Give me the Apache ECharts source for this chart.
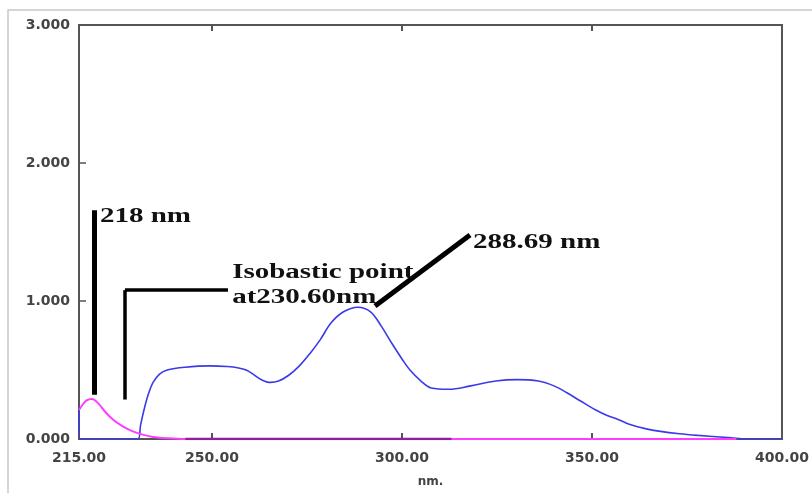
<!DOCTYPE html>
<html>
<head>
<meta charset="utf-8">
<script src="https://cdn.jsdelivr.net/npm/echarts@6/dist/echarts.min.js"></script>
<style>html,body{margin:0;padding:0;background:#fff;}#c{width:812px;height:493px;}</style>
</head>
<body>
<div id="c"></div>
<script>
// ---- data ----
var blueSpectrum = [
  [215,0.22],[215.3,0],[230.5,0],[231.2,0.10],[232.1,0.21],[233.2,0.32],[234.5,0.41],[236.2,0.47],
  [238.2,0.50],[242.9,0.52],[249.5,0.53],[254,0.525],[257,0.515],[259,0.50],[260.8,0.47],[263,0.43],
  [265.4,0.41],[267.5,0.42],[270.1,0.46],[273,0.53],[275.8,0.62],[278.5,0.72],[281.3,0.84],[284.5,0.92],
  [288.4,0.955],[291.8,0.92],[294.5,0.82],[297.4,0.69],[300,0.58],[302.1,0.50],[305,0.42],[307.7,0.37],
  [312.4,0.36],[318.1,0.385],[324.7,0.42],[330.3,0.43],[335.9,0.42],[340,0.385],[343.4,0.335],[347,0.275],
  [351,0.21],[354,0.17],[357,0.14],[360,0.105],[364,0.075],[368,0.055],[373,0.038],[378,0.026],
  [383.7,0.015],[388,0.005],[390,0],[400,0]
];
var magentaSpectrum = [
  [215,0.21],[216,0.25],[217,0.28],[218.4,0.29],[220,0.26],[222.1,0.19],[224,0.14],[226,0.10],
  [228,0.07],[229.7,0.05],[232,0.03],[234.5,0.015],[238,0.006],[243,0],[388,0]
];
var overlapBaseline = [[243,0],[313,0]];
var xLabelValues = [215,250,300,350,400];
var xTickValues = [250,300,350];
var yTickValues = [1,2];
// annotation anchors in data space [nm, absorbance]
var line218 = [[218.95,1.657],[218.95,0.32]];
var lineIso = [[254.2,1.079],[227.1,1.079],[227.1,0.286]];
var line288 = [[292.9,0.964],[317.9,1.479]];
var text218 = {label:'218 nm', at:[220.5,1.61]};
var textIso = {label:'Isobastic point\nat230.60nm', at:[255.3,1.117]};
var text288 = {label:'288.69 nm', at:[318.7,1.423]};

var chart = echarts.init(document.getElementById('c'));
var axisColor = '#555';
var labelFont = {fontFamily:'DejaVu Sans', fontWeight:'bold', fontSize:14, color:'#444'};

function segLines(pts){
  var out=[];
  for(var i=0;i<pts.length-1;i++){ out.push([{coord:pts[i]},{coord:pts[i+1]}]); }
  return out;
}
var annLines = segLines(line218).concat(segLines(lineIso).map(function(s){return s.map(function(p){return {coord:p.coord, lineStyle:{width:3.5}};});})).concat(segLines(line288));

var option = {
  animation:false,
  grid:{left:79, top:25, right:29, bottom:46, show:true, borderColor:axisColor, borderWidth:2, backgroundColor:'transparent'},
  xAxis:[{
    type:'value', min:215, max:400, position:'bottom',
    name:'nm.', nameLocation:'middle', nameGap:37,
    nameTextStyle:{fontFamily:'DejaVu Sans', fontWeight:'bold', fontSize:12, color:'#444'},
    axisLine:{show:true, lineStyle:{color:axisColor, width:2}},
    axisTick:{show:true, inside:true, length:6, customValues:xTickValues, lineStyle:{color:axisColor, width:2}},
    axisLabel:Object.assign({customValues:xLabelValues, margin:12, formatter:function(v){return v.toFixed(2);}}, labelFont),
    splitLine:{show:false}
  },{
    type:'value', min:215, max:400, position:'top',
    axisLine:{show:true, lineStyle:{color:axisColor, width:2}},
    axisTick:{show:true, inside:true, length:6, customValues:xTickValues, lineStyle:{color:axisColor, width:2}},
    axisLabel:{show:false}, splitLine:{show:false}
  }],
  yAxis:{
    type:'value', min:0, max:3, interval:1,
    axisLine:{show:true, lineStyle:{color:axisColor, width:2}},
    axisTick:{show:true, inside:true, length:7, customValues:yTickValues, lineStyle:{color:axisColor, width:1.5}},
    axisLabel:Object.assign({margin:9, formatter:function(v){return v.toFixed(3);}}, labelFont),
    splitLine:{show:false}
  },
  series:[
    {type:'line', data:blueSpectrum, showSymbol:false, smooth:0.35, z:3,
     lineStyle:{color:'#3a3ae8', width:1.6},
     markLine:{silent:true, symbol:['none','none'], label:{show:false},
       lineStyle:{color:'#000', width:5, type:'solid'}, data:annLines}},
    {type:'line', data:magentaSpectrum, showSymbol:false, smooth:0.35, z:4,
     lineStyle:{color:'#ff3cff', width:2}},
    {type:'line', data:overlapBaseline, showSymbol:false, z:5,
     lineStyle:{color:'#8e1f9e', width:2.5}}
  ]
};
chart.setOption(option);

function textEl(t){
  var p = chart.convertToPixel({xAxisIndex:0, yAxisIndex:0}, t.at);
  return {type:'text', x:p[0], y:p[1], scaleX:1.45, scaleY:1, z:100,
    style:{text:t.label, fontFamily:'Liberation Serif', fontWeight:'bold', fontSize:20, lineHeight:25,
      fill:'#111', align:'left', verticalAlign:'middle'}};
}
chart.setOption({graphic:[
  {type:'polyline', z:0, shape:{points:[[8,493],[8,10],[812,10]]}, style:{stroke:'#c8c8c8', lineWidth:1.5, fill:null}},
  textEl(text218), textEl(textIso), textEl(text288)
]});
</script>
</body>
</html>
